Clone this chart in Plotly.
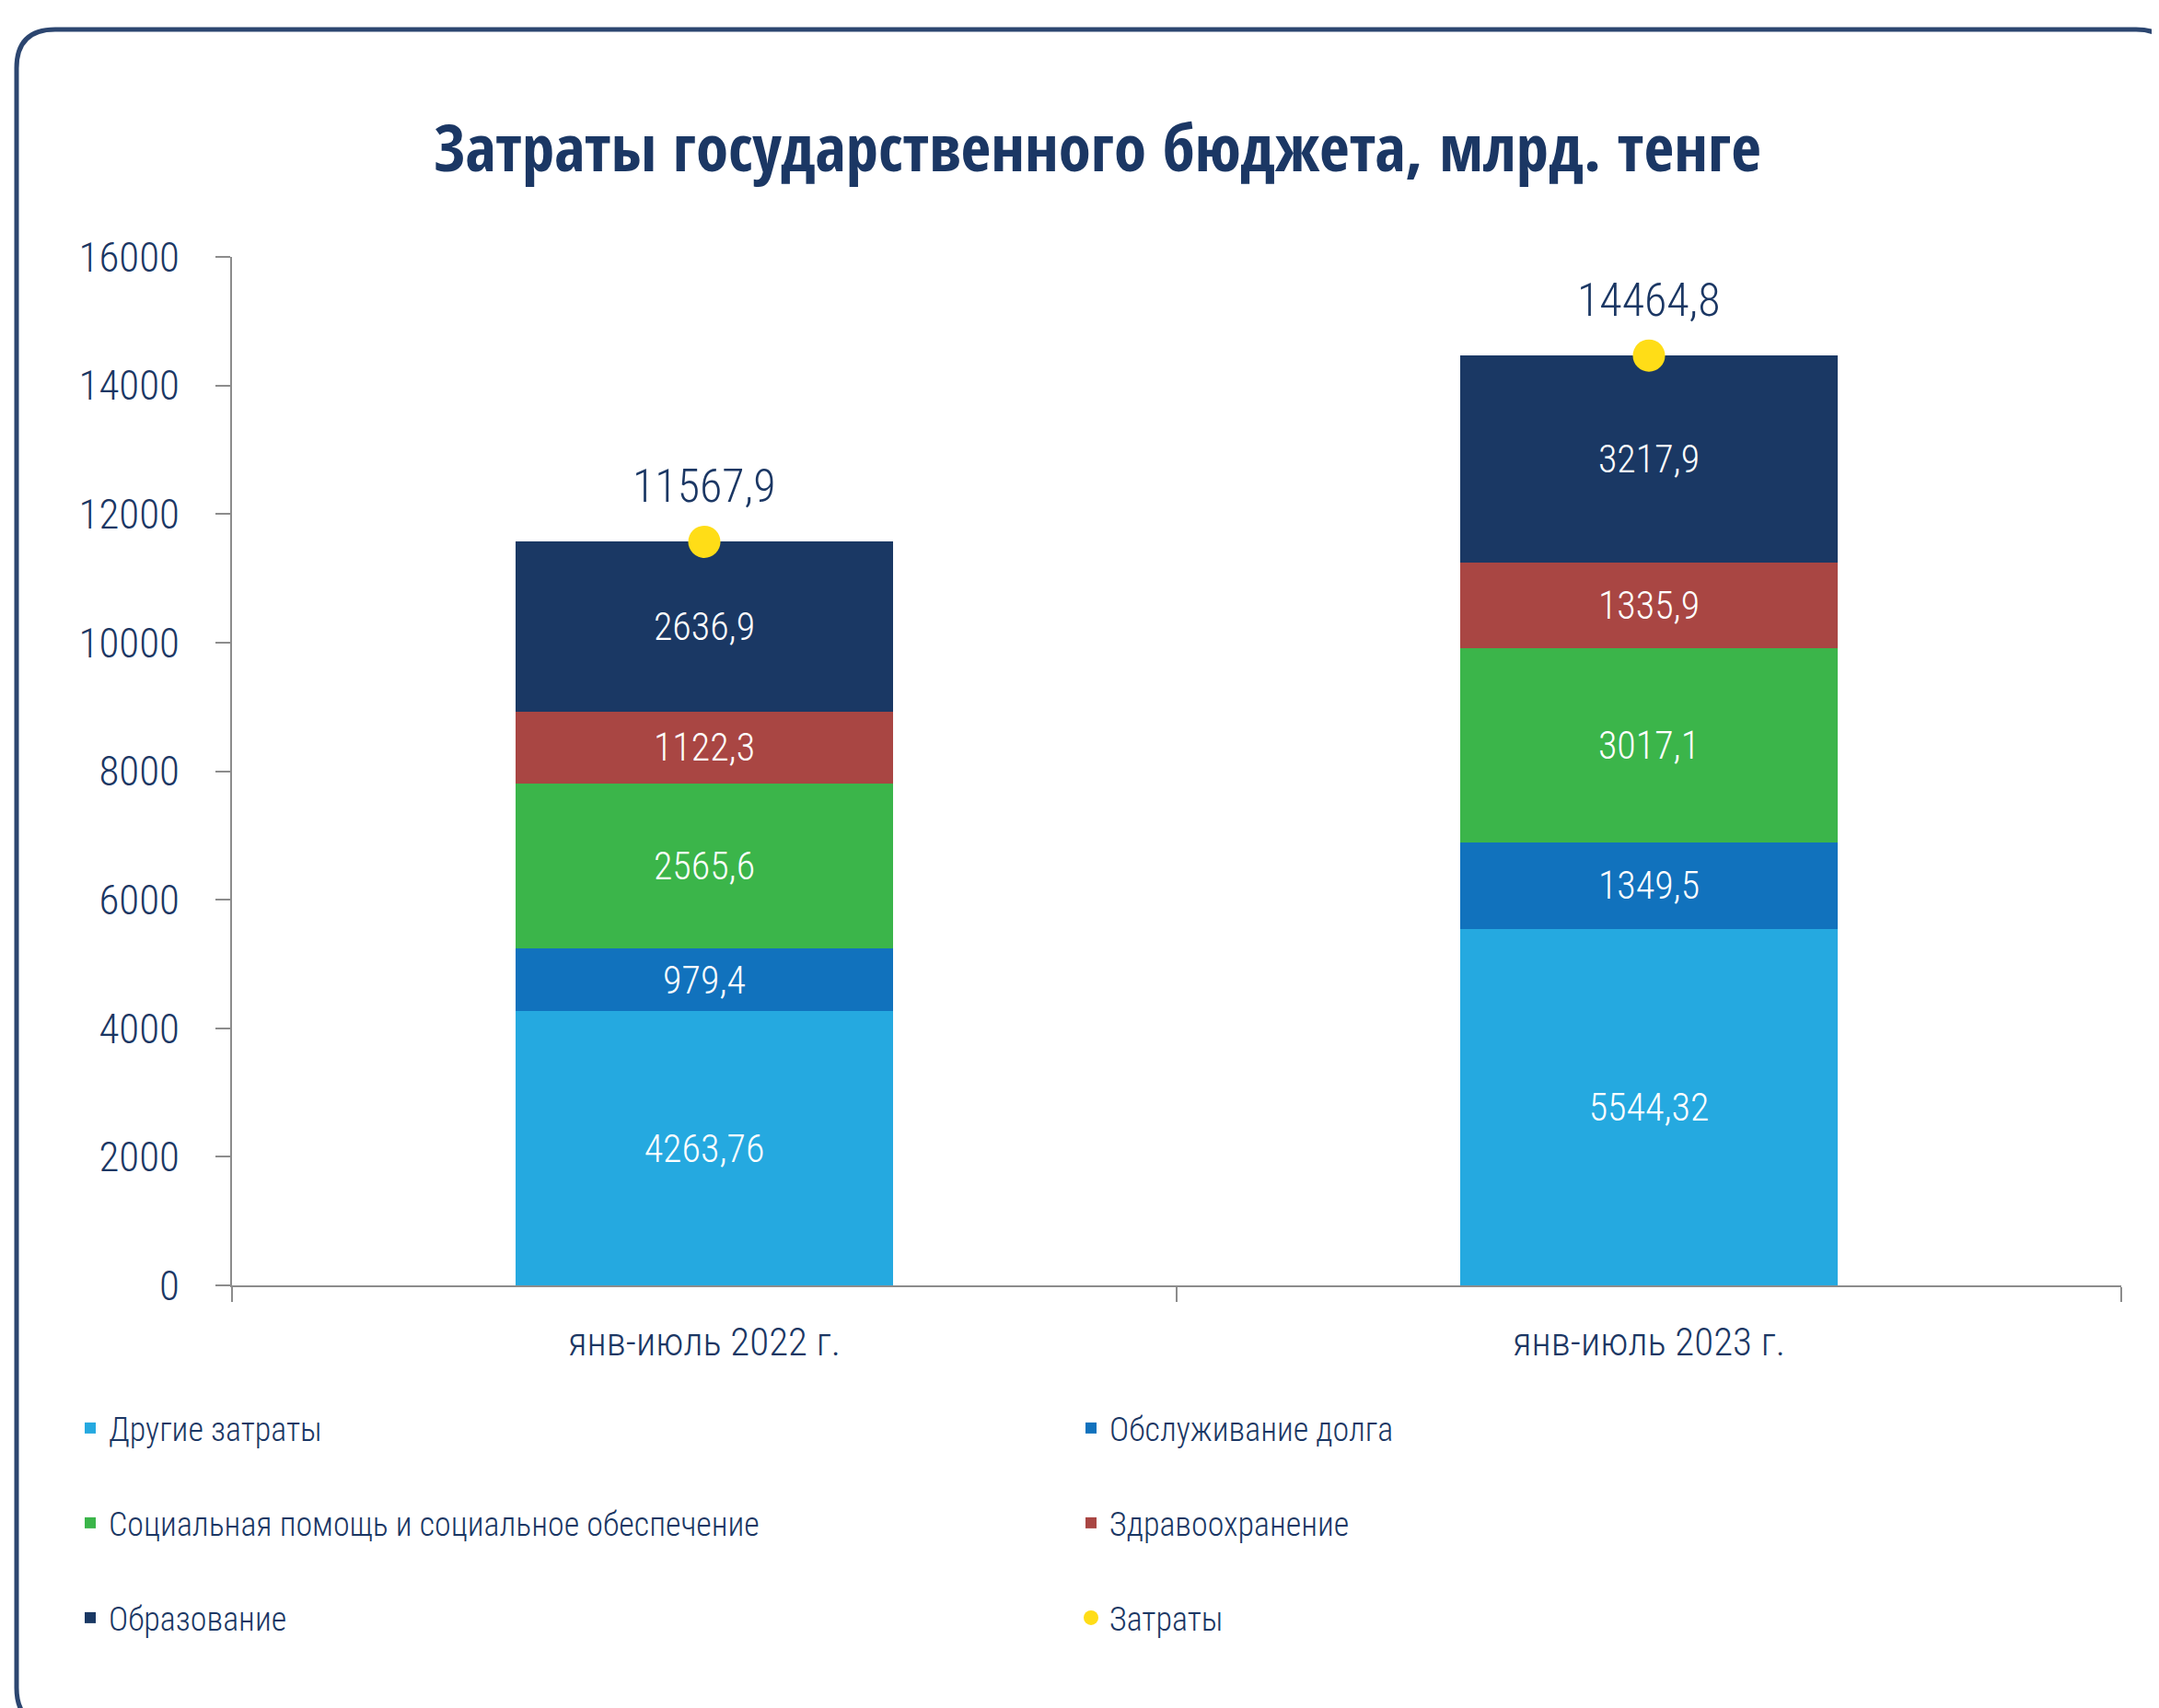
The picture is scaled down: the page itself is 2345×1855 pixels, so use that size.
import plotly.graph_objects as go

categories = ["янв-июль 2022 г.", "янв-июль 2023 г."]
series_names = [
    "Другие затраты",
    "Обслуживание долга",
    "Социальная помощь и социальное обеспечение",
    "Здравоохранение",
    "Образование",
]
other_costs = [4263.76, 5544.32]
debt_service = [979.4, 1349.5]
social_aid = [2565.6, 3017.1]
healthcare = [1122.3, 1335.9]
education = [2636.9, 3217.9]
totals = [11567.9, 14464.8]
total_name = "Затраты"

series_values = [other_costs, debt_service, social_aid, healthcare, education]
series_colors = ["#25a9e0", "#1172bd", "#3bb54a", "#a94643", "#1a3864"]
legend_ids = ["legend", "legend2", "legend3", "legend4", "legend5"]

NAVY = "#1b3764"
OSC = "Open Sans Condensed, Roboto Condensed, DejaVu Sans Condensed, sans-serif"
RC = "Roboto Condensed, DejaVu Sans Condensed, sans-serif"

# page body has an 8px margin; work in screen pixels and convert
OFF = 8
W, H = 2345 - OFF, 1855 - OFF
PLOT_L, PLOT_R, PLOT_T, PLOT_B = 252, 2304, 279, 1396
ML, MT = PLOT_L - OFF, PLOT_T - OFF
MR, MB = W - (PLOT_R - OFF), H - (PLOT_B - OFF)
PW, PH = W - ML - MR, H - MT - MB


def fmt(v):
    return str(v).replace(".", ",")


fig = go.Figure()
for name, vals, col, lg in zip(series_names, series_values, series_colors, legend_ids):
    fig.add_trace(go.Bar(
        x=categories, y=vals, name=name, legend=lg,
        marker=dict(color=col, line=dict(width=0)),
        text=[fmt(v) for v in vals], textposition="inside",
        insidetextanchor="middle", textangle=0,
        textfont=dict(color="white", size=42, family=RC, weight=300),
        constraintext="none", hoverinfo="skip",
    ))

fig.add_trace(go.Scatter(
    x=categories, y=totals, name=total_name, mode="markers", legend="legend6",
    marker=dict(color="#ffdd17", size=35, line=dict(width=0)), hoverinfo="skip",
))

for c, t in zip(categories, totals):
    fig.add_annotation(x=c, y=t, text=fmt(t), showarrow=False, yshift=60,
                       yanchor="middle",
                       font=dict(color=NAVY, size=50, family=RC, weight=300))


def px_x(p):
    return (p - PLOT_L) / PW


def px_y(p):
    return (PLOT_B - p) / PH


# rounded frame (screen pixel coordinates)
x0, x1, y0, y1, r = 18, 2362, 32, 1875, 42
path = (
    f"M {px_x(x0 + r)},{px_y(y0)} L {px_x(x1 - r)},{px_y(y0)} "
    f"Q {px_x(x1)},{px_y(y0)} {px_x(x1)},{px_y(y0 + r)} "
    f"L {px_x(x1)},{px_y(y1 - r)} Q {px_x(x1)},{px_y(y1)} {px_x(x1 - r)},{px_y(y1)} "
    f"L {px_x(x0 + r)},{px_y(y1)} Q {px_x(x0)},{px_y(y1)} {px_x(x0)},{px_y(y1 - r)} "
    f"L {px_x(x0)},{px_y(y0 + r)} Q {px_x(x0)},{px_y(y0)} {px_x(x0 + r)},{px_y(y0)} Z"
)
fig.add_shape(type="path", path=path, xref="paper", yref="paper",
              line=dict(color="#2c4670", width=5), layer="below")

leg_common = dict(orientation="h", xref="container", yref="container",
                  xanchor="left", yanchor="middle",
                  font=dict(color=NAVY, size=36, family=RC, weight=300),
                  bgcolor="rgba(0,0,0,0)")
col_x = [78, 1165]
row_y = [1551, 1654, 1757]
legend_layout = {}
for i, lid in enumerate(["legend", "legend2", "legend3", "legend4", "legend5", "legend6"]):
    legend_layout[lid] = dict(x=(col_x[i % 2] - OFF) / W,
                              y=1 - (row_y[i // 2] - OFF) / H, **leg_common)

fig.update_layout(
    width=W, height=H, showlegend=True,
    margin=dict(l=ML, r=MR, t=MT, b=MB, autoexpand=False),
    paper_bgcolor="white", plot_bgcolor="white",
    barmode="stack", bargap=0.6,
    title=dict(text="<b>Затраты государственного бюджета, млрд. тенге</b>",
               x=(1192 - OFF) / W, xanchor="center", y=1 - (161 - OFF) / H,
               yanchor="middle",
               font=dict(color=NAVY, size=71, family=OSC)),
    font=dict(family=RC, color=NAVY),
    xaxis=dict(type="category", range=[-0.5, 1.5], showline=True, linecolor="#8c8c8c",
               linewidth=2, ticks="outside", tickson="boundaries", ticklen=16,
               tickcolor="#8c8c8c", tickwidth=2, showgrid=False, automargin=False,
               tickfont=dict(color=NAVY, size=43, family=RC, weight=300),
               ticklabelstandoff=22),
    yaxis=dict(range=[0, 16000], dtick=2000, showline=True, linecolor="#8c8c8c",
               linewidth=2, ticks="outside", ticklen=16, tickcolor="#8c8c8c",
               tickwidth=2, showgrid=False, zeroline=False, tickformat="d",
               automargin=False,
               tickfont=dict(color=NAVY, size=45, family=RC, weight=300),
               ticklabelstandoff=30),
    **legend_layout,
)

fig.write_html("out.html")
